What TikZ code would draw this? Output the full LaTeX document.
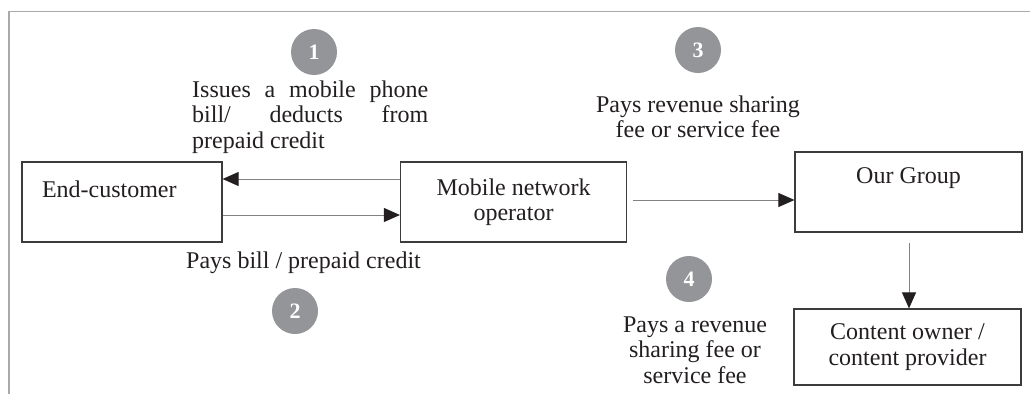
\documentclass[tikz,border=0pt]{standalone}
\usepackage{fontspec}
\setmainfont{Liberation Serif}
\usetikzlibrary{arrows.meta}
\definecolor{ink}{HTML}{231F20}
\definecolor{frameline}{HTML}{A7A9AC}
\definecolor{boxline}{HTML}{3C3C3C}
\definecolor{connline}{HTML}{808285}
\definecolor{badgefill}{HTML}{939598}
% stacked lines whose first baseline is the node's base
\newcommand{\txtlines}[2]{\begin{tabular}[t]{@{}#1@{}}#2\end{tabular}}
\tikzset{
  txt/.style={font=\fontsize{24}{25.5}\selectfont, text=ink, inner sep=0pt},
  box/.style={txt, draw=boxline, line width=1.2pt, inner ysep=0pt, inner xsep=4pt},
  badge/.style={circle, fill=badgefill, minimum size=46pt, inner sep=0pt,
    text=white, font=\fontsize{22}{22}\selectfont\bfseries},
  conn/.style={draw=connline, line width=0.9pt,
    -{Triangle[length=16pt, width=14pt, color=ink]}},
  frame/.style={draw=frameline, line width=1.4pt},
}
\begin{document}
\begin{tikzpicture}[x=1pt, y=-1pt]
  \useasboundingbox (0,0) rectangle (1030,394);
  \fill[white] (0,0) rectangle (1030,394);

  % outer frame (top and left rules)
  \draw[frame] (9,394) -- (9,11.5) -- (1030,11.5);

  % parties
  \node[box, minimum width=200pt, minimum height=80pt, text width=160pt,
        inner xsep=20pt, align=left, text height=16pt, text depth=26pt]
        (ec) at (122,202) {End-customer};
  \node[box, minimum width=226pt, minimum height=80pt, align=center]
        (mno) at (513.5,202) {Mobile network\\operator};
  \node[box, minimum width=227pt, minimum height=80pt, align=center,
        text height=16pt, text depth=34pt]
        (grp) at (908.5,192) {Our Group};
  \node[box, minimum width=227pt, minimum height=76pt, align=center]
        (cop) at (907.5,347) {Content owner /\\content provider};

  % step badges
  \node[badge] (n1) at (314,52) {1};
  \node[badge] (n2) at (295,311) {2};
  \node[badge] (n3) at (698,50) {3};
  \node[badge] (n4) at (689,279) {4};

  % step descriptions
  \node[txt, anchor=base west] (t1) at (192,97)
    {\txtlines{l}{\makebox[236pt][s]{Issues a mobile phone}\\
                  \makebox[236pt][s]{bill/ deducts from}\\
                  prepaid credit}};
  \node[txt, anchor=base] (t2) at (303.5,268) {Pays bill / prepaid credit};
  \node[txt, anchor=base] (t3) at (698,112)
    {\txtlines{c}{Pays revenue sharing\\fee or service fee}};
  \node[txt, anchor=base] (t4) at (695,332)
    {\txtlines{c}{Pays a revenue\\sharing fee or\\service fee}};

  % flows
  \coordinate (y179) at (0,179);
  \coordinate (y215) at (0,215);
  \coordinate (s3) at (633,200);
  \coordinate (s4) at (909,243);
  \draw[conn] (mno.west |- y179) -- (ec.east |- y179);
  \draw[conn] (ec.east |- y215) -- (mno.west |- y215);
  \draw[conn] (s3) -- (s3 -| grp.west);
  \draw[conn] (s4) -- (s4 |- cop.north);
\end{tikzpicture}
\end{document}
